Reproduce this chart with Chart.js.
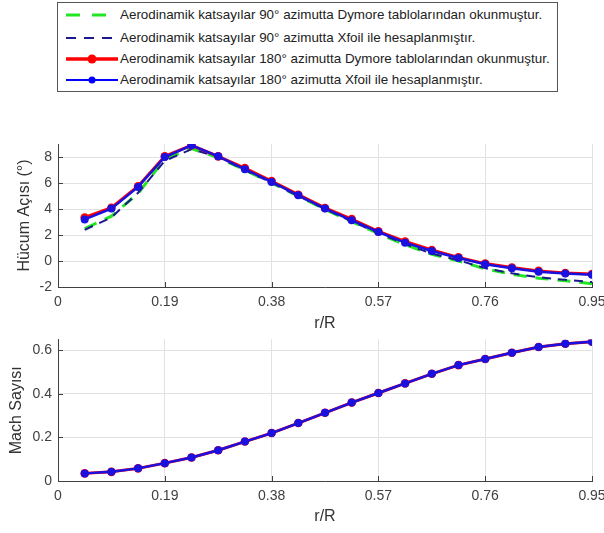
<!DOCTYPE html>
<html>
<head>
<meta charset="utf-8">
<script src="https://cdn.jsdelivr.net/npm/chart.js@4.4.0/dist/chart.umd.min.js"></script>
<style>
  html, body { margin:0; padding:0; background:#fff; }
  #wrap { position:relative; width:604px; height:533px; overflow:hidden; }
  canvas { position:absolute; left:0; }
  #c1 { top:96px; }
  #c2 { top:325px; }
  #legend { position:absolute; left:57px; top:2px; width:501px; height:90px; box-sizing:border-box;
            border:1px solid #555; background:#fff; font-family:"Liberation Sans", Arial, sans-serif;
            font-size:13.4px; color:#222; }
  .row { position:absolute; left:0; height:20px; line-height:20px; white-space:nowrap; }
  .row svg { position:absolute; left:8px; top:0; }
  .row span { position:absolute; left:62px; top:0; }
</style>
</head>
<body>
<div id="wrap">
  <div id="legend"></div>
  <canvas id="c1" width="620" height="244"></canvas>
  <canvas id="c2" width="620" height="208"></canvas>
</div>
<script>
// r/R stations
const rR = [0.0475,0.095,0.1425,0.19,0.2375,0.285,0.3325,0.38,0.4275,0.475,
            0.5225,0.57,0.6175,0.665,0.7125,0.76,0.8075,0.855,0.9025,0.95];

// angle of attack (deg)
const aoa90Dymore = [2.5,3.45,5.2,7.85,8.65,7.95,7.0,6.0,4.98,3.98,3.02,2.12,1.25,0.52,0.0,-0.6,-1.02,-1.32,-1.52,-1.75];
const aoa90Xfoil  = [2.4,3.35,5.25,7.7,8.6,8.0,7.0,6.02,5.0,4.0,3.05,2.15,1.3,0.57,0.05,-0.55,-0.95,-1.25,-1.45,-1.62];
const aoa180Dymore = [3.35,4.1,5.75,8.05,8.9,8.05,7.15,6.15,5.1,4.08,3.22,2.28,1.5,0.85,0.28,-0.2,-0.5,-0.76,-0.92,-1.0];
const aoa180Xfoil  = [3.2,4.03,5.7,8.0,8.9,8.05,7.05,6.08,5.05,4.03,3.13,2.23,1.41,0.77,0.23,-0.25,-0.56,-0.82,-0.97,-1.05];

// mach number
const mach180Dymore = [0.035,0.042,0.058,0.082,0.108,0.141,0.181,0.220,0.266,0.313,0.360,0.404,0.448,0.492,0.532,0.560,0.589,0.615,0.630,0.639];
const mach180Xfoil  = [0.035,0.042,0.058,0.082,0.108,0.141,0.181,0.220,0.266,0.313,0.360,0.404,0.448,0.492,0.532,0.560,0.589,0.615,0.630,0.639];

// ticks
const xTicks = [0,0.19,0.38,0.57,0.76,0.95];
const xTickLabels = ['0','0.19','0.38','0.57','0.76','0.95'];
const aoaTicks = [-2,0,2,4,6,8];
const aoaTickLabels = ['-2','0','2','4','6','8'];
const machTicks = [0,0.2,0.4,0.6];
const machTickLabels = ['0','0.2','0.4','0.6'];

const seriesNames = [
  'Aerodinamik katsayılar 90° azimutta Dymore tablolarından okunmuştur.',
  'Aerodinamik katsayılar 90° azimutta Xfoil ile hesaplanmıştır.',
  'Aerodinamik katsayılar 180° azimutta Dymore tablolarından okunmuştur.',
  'Aerodinamik katsayılar 180° azimutta Xfoil ile hesaplanmıştır.'
];

const GREEN = '#22e622', NAVY = '#1a1a8c', RED = '#ff0000', BLUE = '#1a10e0';
const AXIS = '#404040', GRID = '#e2e2e2', TXT = '#404040';
const FONT = '"Liberation Sans", Arial, sans-serif';

function pts(ys){ return rR.map((x,i)=>({x:x, y:ys[i]})); }

// legend (html)
const legendStyles = [
  {color:GREEN, w:3, dash:'14 12', marker:0},
  {color:NAVY, w:2, dash:'10 8', marker:0},
  {color:RED, w:3.5, dash:'', marker:4.5},
  {color:'#0000ff', w:2, dash:'', marker:3.5}
];
const rowTops = [2, 25, 46, 67];
const legendEl = document.getElementById('legend');
seriesNames.forEach((name,i)=>{
  const s = legendStyles[i];
  const row = document.createElement('div'); row.className='row'; row.style.top = rowTops[i]+'px';
  let svg = `<svg width="52" height="20"><line x1="0" y1="10" x2="52" y2="10" stroke="${s.color}" stroke-width="${s.w}" ${s.dash?`stroke-dasharray="${s.dash}"`:''}/>`;
  if(s.marker) svg += `<circle cx="26" cy="10" r="${s.marker}" fill="${s.color}"/>`;
  svg += '</svg>';
  row.innerHTML = svg + `<span>${name}</span>`;
  legendEl.appendChild(row);
});

// small inward tick marks like the matlab axes
const innerTicks = {
  id:'innerTicks',
  afterDraw(chart, args, opts){
    const {ctx, chartArea:a, scales:{x, y}} = chart;
    ctx.save(); ctx.strokeStyle = AXIS; ctx.lineWidth = 1;
    ctx.beginPath();
    xTicks.forEach(v=>{ const px = Math.round(x.getPixelForValue(v))+0.5; ctx.moveTo(px, a.bottom); ctx.lineTo(px, a.bottom-5); });
    opts.yTicks.forEach(v=>{ const py = Math.round(y.getPixelForValue(v))+0.5; ctx.moveTo(a.left, py); ctx.lineTo(a.left+5, py); });
    ctx.stroke(); ctx.restore();
  }
};

function xScale(titlePad, axisH){
  return {
    type:'linear', min:0, max:0.95,
    afterBuildTicks: s => { s.ticks = xTicks.map(v=>({value:v})); },
    afterFit: s => { s.height = axisH; },
    ticks:{ callback:(v,i)=>xTickLabels[i], color:TXT, font:{family:FONT, size:14}, padding:7, maxRotation:0, autoSkip:false },
    grid:{ color:GRID, drawTicks:false },
    border:{ color:AXIS, width:1 },
    title:{ display:true, text:'r/R', color:'#333', font:{family:FONT, size:16}, padding:{top:0, bottom:titlePad} }
  };
}
function yScale(min, max, ticks, labels, title, titlePad){
  return {
    min:min, max:max,
    afterBuildTicks: s => { s.ticks = ticks.map(v=>({value:v})); },
    afterFit: s => { s.width = 58; },
    ticks:{ callback:(v,i)=>labels[i], color:TXT, font:{family:FONT, size:14}, padding:6 },
    grid:{ color:GRID, drawTicks:false },
    border:{ color:AXIS, width:1 },
    title:{ display:true, text:title, color:'#333', font:{family:FONT, size:16}, padding:{top:titlePad, bottom:0} }
  };
}

const common = {
  responsive:false, animation:false, devicePixelRatio:1,
  elements:{ line:{tension:0} }
};

new Chart(document.getElementById('c1'), {
  type:'line',
  data:{ datasets:[
    {label:seriesNames[3], data:pts(aoa180Xfoil), borderColor:BLUE, backgroundColor:BLUE, borderWidth:2.5, pointRadius:4, pointBorderWidth:0, order:0},
    {label:seriesNames[2], data:pts(aoa180Dymore), borderColor:RED, backgroundColor:RED, borderWidth:3, pointRadius:4.3, pointBorderWidth:0, order:1},
    {label:seriesNames[1], data:pts(aoa90Xfoil), borderColor:NAVY, borderWidth:2, borderDash:[9,7], pointRadius:0, order:2},
    {label:seriesNames[0], data:pts(aoa90Dymore), borderColor:GREEN, borderWidth:3, borderDash:[13,9], pointRadius:0, order:3}
  ]},
  options:Object.assign({}, common, {
    layout:{ padding:{top:48, right:28, left:0, bottom:0} },
    plugins:{ legend:{display:false}, tooltip:{enabled:false}, innerTicks:{yTicks:aoaTicks} },
    scales:{ x:xScale(6.4, 53), y:yScale(-2, 9, aoaTicks, aoaTickLabels, 'Hücum Açısı (°)', 15.4) }
  }),
  plugins:[innerTicks]
});

new Chart(document.getElementById('c2'), {
  type:'line',
  data:{ datasets:[
    {label:seriesNames[3], data:pts(mach180Xfoil), borderColor:BLUE, backgroundColor:BLUE, borderWidth:2.5, pointRadius:4, pointBorderWidth:0, order:0},
    {label:seriesNames[2], data:pts(mach180Dymore), borderColor:RED, backgroundColor:RED, borderWidth:3, pointRadius:4.3, pointBorderWidth:0, order:1}
  ]},
  options:Object.assign({}, common, {
    layout:{ padding:{top:13, right:28, left:0, bottom:0} },
    plugins:{ legend:{display:false}, tooltip:{enabled:false}, innerTicks:{yTicks:machTicks} },
    scales:{ x:xScale(6.4, 52), y:yScale(0, 0.65, machTicks, machTickLabels, 'Mach Sayısı', 7.4) }
  }),
  plugins:[innerTicks]
});
</script>
</body>
</html>
